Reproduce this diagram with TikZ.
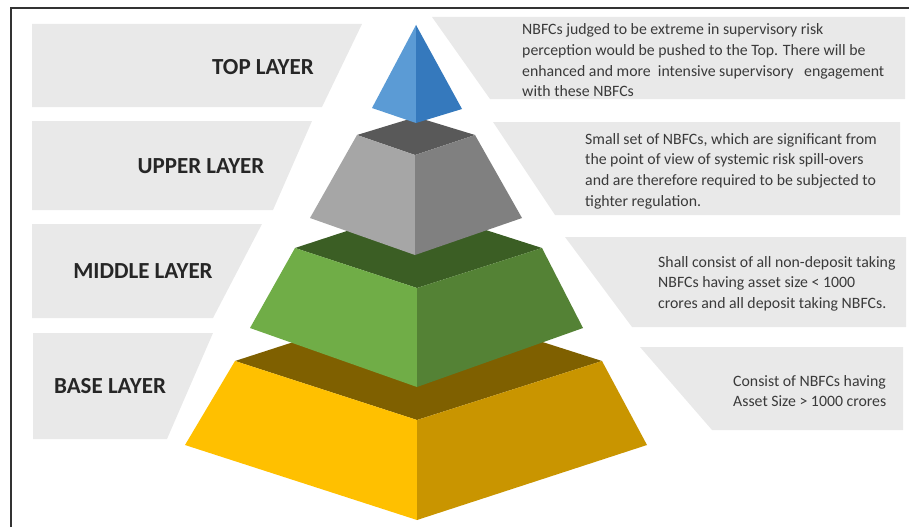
\documentclass[tikz,border=0pt]{standalone}
\usepackage{fontspec}
\setmainfont{Carlito}
\definecolor{boxgray}{HTML}{E9E9E9}
\definecolor{blueL}{HTML}{5B9BD5}
\definecolor{blueR}{HTML}{3579BD}
\definecolor{grayT}{HTML}{595959}
\definecolor{grayL}{HTML}{A6A6A6}
\definecolor{grayR}{HTML}{808080}
\definecolor{greenT}{HTML}{3B5E24}
\definecolor{greenL}{HTML}{70AD47}
\definecolor{greenR}{HTML}{548235}
\definecolor{yelT}{HTML}{7F6000}
\definecolor{yelL}{HTML}{FFC000}
\definecolor{yelR}{HTML}{C99500}
\definecolor{labtext}{HTML}{262626}
\definecolor{desctext}{HTML}{3A3A3A}
\definecolor{framec}{HTML}{333333}
\tikzset{
  labelbox/.style={fill=boxgray, draw=none},
  layerlabel/.style={font=\fontsize{23}{27}\selectfont\bfseries, text=labtext, inner sep=0pt},
  desc/.style={font=\fontsize{15.8}{20.7}\selectfont, text=desctext, align=left, inner sep=0pt, anchor=north west},
}
\begin{document}
\begin{tikzpicture}[x=1pt,y=-1pt]
\useasboundingbox (0,0) rectangle (909,527);
% frame
\draw[framec, line width=2.5pt] (11,527) -- (11,8) -- (909,8);
% left label boxes
\fill[labelbox] (32,24) -- (362,24) -- (322,107) -- (32,107) -- cycle;
\fill[labelbox] (32,121) -- (312,121) -- (273,210) -- (32,210) -- cycle;
\fill[labelbox] (32,224) -- (262,224) -- (213,318) -- (32,318) -- cycle;
\fill[labelbox] (33,333) -- (213,333) -- (167,439) -- (33,439) -- cycle;
% right description boxes
\fill[labelbox] (432,17) -- (905,17) -- (905,99) -- (490,99) -- cycle;
\fill[labelbox] (493,122) -- (900,122) -- (900,215) -- (555,215) -- cycle;
\fill[labelbox] (565,237) -- (906,237) -- (906,327) -- (632,327) -- cycle;
\fill[labelbox] (640,347) -- (903,347) -- (903,430) -- (712,430) -- cycle;
% yellow base
\fill[yelT] (417,302) -- (235,361) -- (417,420) -- (602,361) -- cycle;
\fill[yelL] (235,361) -- (417,420) -- (417,520) -- (185,445) -- cycle;
\fill[yelR] (417,420) -- (602,361) -- (647,445) -- (417,520) -- cycle;
% green middle
\fill[greenT] (417,208) -- (295,248) -- (417,288) -- (542,248) -- cycle;
\fill[greenL] (295,248) -- (417,288) -- (417,387) -- (250,328) -- cycle;
\fill[greenR] (417,288) -- (542,248) -- (583,328) -- (417,387) -- cycle;
% gray upper
\fill[grayT] (416,117) -- (357,135) -- (415,155) -- (475,135) -- cycle;
\fill[grayL] (357,135) -- (415,155) -- (415,255) -- (310,218) -- cycle;
\fill[grayR] (415,155) -- (475,135) -- (522,218) -- (415,255) -- cycle;
% blue top
\fill[blueL] (416,25) -- (372,108) -- (416,123) -- cycle;
\fill[blueR] (416,25) -- (416,123) -- (462,109) -- cycle;
% labels
\node[layerlabel] (top) at (263,67) {TOP LAYER};
\node[layerlabel] (upper) at (201,166) {UPPER LAYER};
\node[layerlabel] (middle) at (143,271) {MIDDLE LAYER};
\node[layerlabel] (base) at (110,386) {BASE LAYER};
% descriptions
\node[desc] (dtop) at (522,23.5) {NBFCs judged to be extreme in supervisory risk\\perception would be pushed to the Top. There will be\\enhanced and more\ \ intensive supervisory\ \ \ engagement\\with these NBFCs};
\node[desc] (dupper) at (585,133) {Small set of NBFCs, which are significant from\\the point of view of systemic risk spill-overs\\and are therefore required to be subjected to\\tighter regulation.};
\node[desc] (dmiddle) at (658,256) {Shall consist of all non-deposit taking\\NBFCs having asset size < 1000\\crores and all deposit taking NBFCs.};
\node[desc] (dbase) at (733,375) {Consist of NBFCs having\\Asset Size > 1000\ crores};
\end{tikzpicture}
\end{document}
